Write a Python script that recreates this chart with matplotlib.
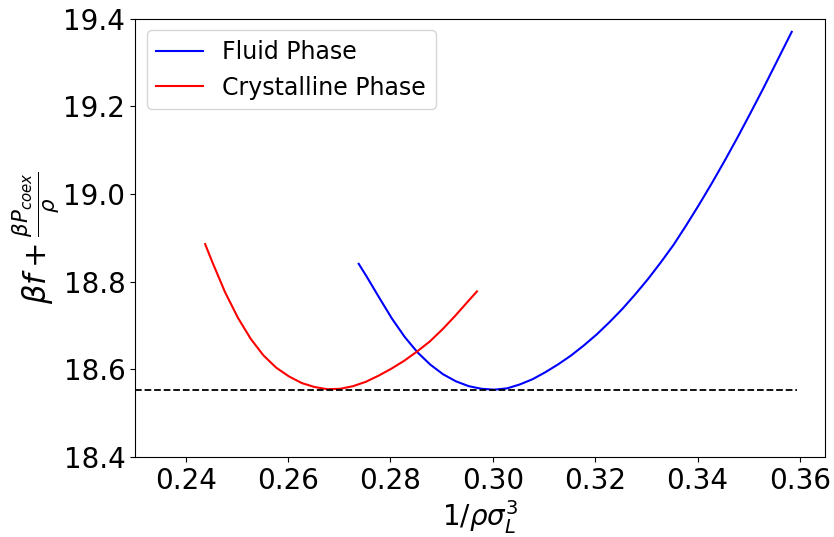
import numpy as np
import matplotlib.pyplot as plt

# free energy curves, beta*f + beta*P_coex/rho vs specific volume
fluid_v = [0.2738, 0.2753, 0.2778, 0.2803, 0.2828, 0.2853, 0.2878, 0.2903, 0.2928,
           0.2953, 0.2978, 0.3003, 0.3028, 0.3053, 0.3078, 0.3103, 0.3128, 0.3153,
           0.3178, 0.3203, 0.3228, 0.3253, 0.3278, 0.3303, 0.3328, 0.3353, 0.3378,
           0.3403, 0.3428, 0.3453, 0.3478, 0.3503, 0.3528, 0.3553, 0.3584]
fluid_f = [18.841, 18.813, 18.764, 18.716, 18.674, 18.639, 18.611, 18.589, 18.573,
           18.562, 18.556, 18.554, 18.557, 18.566, 18.578, 18.594, 18.612, 18.632,
           18.655, 18.680, 18.708, 18.738, 18.771, 18.806, 18.844, 18.884, 18.929,
           18.976, 19.025, 19.076, 19.129, 19.184, 19.240, 19.298, 19.370]

crystal_v = [0.2438, 0.2452, 0.2477, 0.2502, 0.2527, 0.2552, 0.2577, 0.2602, 0.2627,
             0.2652, 0.2677, 0.2702, 0.2727, 0.2752, 0.2777, 0.2802, 0.2827, 0.2852,
             0.2877, 0.2902, 0.2927, 0.2952, 0.2969]
crystal_f = [18.886, 18.845, 18.776, 18.718, 18.670, 18.632, 18.604, 18.584, 18.569,
             18.560, 18.555, 18.556, 18.562, 18.572, 18.586, 18.602, 18.620, 18.641,
             18.664, 18.692, 18.723, 18.756, 18.778]

coex_f = 18.553
coex_v_end = 0.3595

XLIM = (0.2301, 0.3649)
YLIM = (18.4, 19.4)

fig = plt.figure(figsize=(8.34, 5.37), dpi=100)
ax = fig.add_axes([0.1619, 0.1486, 0.8273, 0.8166])

ax.plot(fluid_v, fluid_f, color='blue', lw=1.5, label='Fluid Phase')
ax.plot(crystal_v, crystal_f, color='red', lw=1.5, label='Crystalline Phase')
ax.hlines(coex_f, XLIM[0], coex_v_end, colors='black', linestyles='--', lw=1.3)

ax.set_xlim(*XLIM)
ax.set_ylim(*YLIM)
ax.set_xticks(np.arange(0.24, 0.361, 0.02))
ax.set_yticks(np.arange(18.4, 19.41, 0.2))
ax.tick_params(labelsize=20)

ax.set_xlabel(r'$1/\rho\sigma_L^3$', fontsize=20, labelpad=2)
ax.set_ylabel(r'$\beta f + \frac{\beta P_{coex}}{\rho}$', fontsize=22, labelpad=2)
ax.legend(loc='upper left', fontsize=17)

fig.savefig('out.png', dpi=100)
